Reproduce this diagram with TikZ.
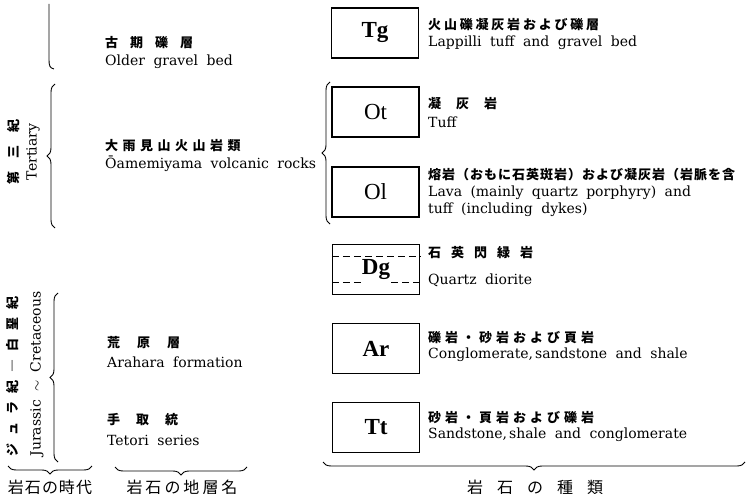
\documentclass[tikz,border=0pt]{standalone}
\usepackage{fontspec}
\newfontfamily\jp{Noto Sans CJK JP}
\newfontfamily\boxfont{Liberation Serif}
\newfontfamily\enserif{DejaVu Serif}
\usetikzlibrary{decorations.pathreplacing,calc}
\makeatletter
\newcommand\jgap[2]{\def\jg@gap{#1}\jg@loop#2\relax}
\def\jg@loop#1{\ifx\relax#1\unkern\else#1\kern\jg@gap\relax\expandafter\jg@loop\fi}
\makeatother
\protected\def\enfont{\enserif\fontsize{14}{15}\selectfont\spaceskip=0.6em plus 0.1em\relax}
\tikzset{
  rockbox/.style={draw, line width=1.1pt, minimum width=87pt, minimum height=50pt, inner sep=0pt},
  boxlbl/.style={inner sep=1pt, font=\boxfont\fontsize{23}{23}\selectfont\bfseries},
  boxlblr/.style={inner sep=1pt, font=\boxfont\fontsize{23}{23}\selectfont},
  en/.style={anchor=west, inner sep=0pt, font=\enfont},
  ja/.style={anchor=west, inner sep=0pt, font=\jp\bfseries\fontsize{13}{14}\selectfont},
  lbl/.style={inner sep=0pt, font=\jp\fontsize{16}{17}\selectfont},
  brc/.style={decorate, decoration={brace, amplitude=8pt}, line width=0.9pt},
  dline/.style={line width=1pt, dash pattern=on 7pt off 4pt},
}
\begin{document}
\begin{tikzpicture}[x=1pt,y=-1pt]
\useasboundingbox (0,0) rectangle (746,494);
\fill[white] (0,0) rectangle (746,494);

% ---- rock boxes ----
\node[rockbox] (tg) at (375,33) {};
\node[boxlbl] at (tg.center) {Tg};
\node[rockbox] (ot) at (375.5,112) {};
\node[boxlblr] at (ot.center) {Ot};
\node[rockbox] (ol) at (375.5,192) {};
\node[boxlblr] at (ol.center) {Ol};
\node[rockbox] (dg) at (376,269.5) {};
\node[boxlbl] (dgt) at (dg.center) {Dg};
\node[rockbox] (ar) at (376,348.5) {};
\node[boxlbl] at (ar.center) {Ar};
\node[rockbox] (tt) at (376,427.5) {};
\node[boxlbl] at (tt.center) {Tt};

\coordinate (d1) at (0,256);
\coordinate (d2) at (0,282);
\draw[dline] (dg.west |- d1) -- (dg.east |- d1);
\draw[dline] (dg.west |- d2) -- (dgt.west |- d2);
\draw[dline] (dgt.east |- d2) -- (dg.east |- d2);

% ---- rock descriptions ----
\node[ja] (tgj) at (428,25) {\jgap{2.8pt}{火山礫凝灰岩および礫層}};
\node[en] (tge) at (428,43) {Lappilli tuff and gravel bed};
\node[ja] (otj) at (428,104) {\jgap{15pt}{凝灰岩}};
\node[en] (ote) at (428,122) {Tuff};
\node[ja] (olj) at (428,175) {\jgap{1pt}{熔岩（おもに石英斑岩）および凝灰岩（岩脈を含}};
\node[en] (ole1) at (428,193) {Lava (mainly quartz porphyry) and};
\node[en] (ole2) at (428,210) {tuff (including dykes)};
\node[ja] (dgj) at (428,253) {\jgap{10pt}{石英閃緑岩}};
\node[en] (dge) at (428,280) {Quartz diorite};
\node[ja] (arj) at (428,338) {\jgap{4pt}{礫岩・砂岩および頁岩}};
\node[en] (are) at (428,355) {Conglomerate,\kern2pt sandstone and shale};
\node[ja] (ttj) at (428,418) {\jgap{4pt}{砂岩・頁岩および礫岩}};
\node[en] (tte) at (428,435) {Sandstone,\kern2pt shale and conglomerate};

% ---- formation names ----
\node[ja] (ogj) at (105,43) {\jgap{12pt}{古期礫層}};
\node[en] (oge) at (105,62) {Older gravel bed};
\node[ja] (ovj) at (105,146) {\jgap{4.5pt}{大雨見山火山岩類}};
\node[en] (ove) at (105,164) {Ōamemiyama volcanic rocks};
\node[ja] (ahj) at (107,343) {\jgap{17pt}{荒原層}};
\node[en] (ahe) at (107,362) {Arahara formation};
\node[ja] (tsj) at (107,420) {\jgap{16pt}{手取統}};
\node[en] (tse) at (107,440) {Tetori series};

% ---- ages ----
\node[ja, anchor=center, rotate=90] (terj) at (13,152) {\jgap{13pt}{第三紀}};
\node[en, anchor=center, rotate=90] (tere) at (33,152) {Tertiary};
\node[ja, anchor=center, rotate=90] (jkj) at (13,376) {\jgap{8pt}{ジュラ紀―白堊紀}};
\node[en, anchor=center, rotate=90] (jke) at (37,374) {Jurassic $\sim$ Cretaceous};

% ---- braces ----
\draw[line width=0.9pt] (49,4) -- (49,60) .. controls (49,66) and (50,68) .. (54,69);
\draw[brc] (55,228) -- (55,84);
\draw[brc] (58,462) -- (58,293);
\draw[brc] (330,224) -- (330,82);
\draw[brc] (92,466) -- (8,466);
\draw[brc] (247,467) -- (115,467);
\draw[brc] (745,462) -- (323,462);

% ---- column headings ----
\node[lbl] (age) at (50,487) {\jgap{1pt}{岩石の時代}};
\node[lbl] (fname) at (182,487) {\jgap{3pt}{岩石の地層名}};
\node[lbl] (kind) at (535,487) {\jgap{14pt}{岩石の種類}};
\end{tikzpicture}
\end{document}
